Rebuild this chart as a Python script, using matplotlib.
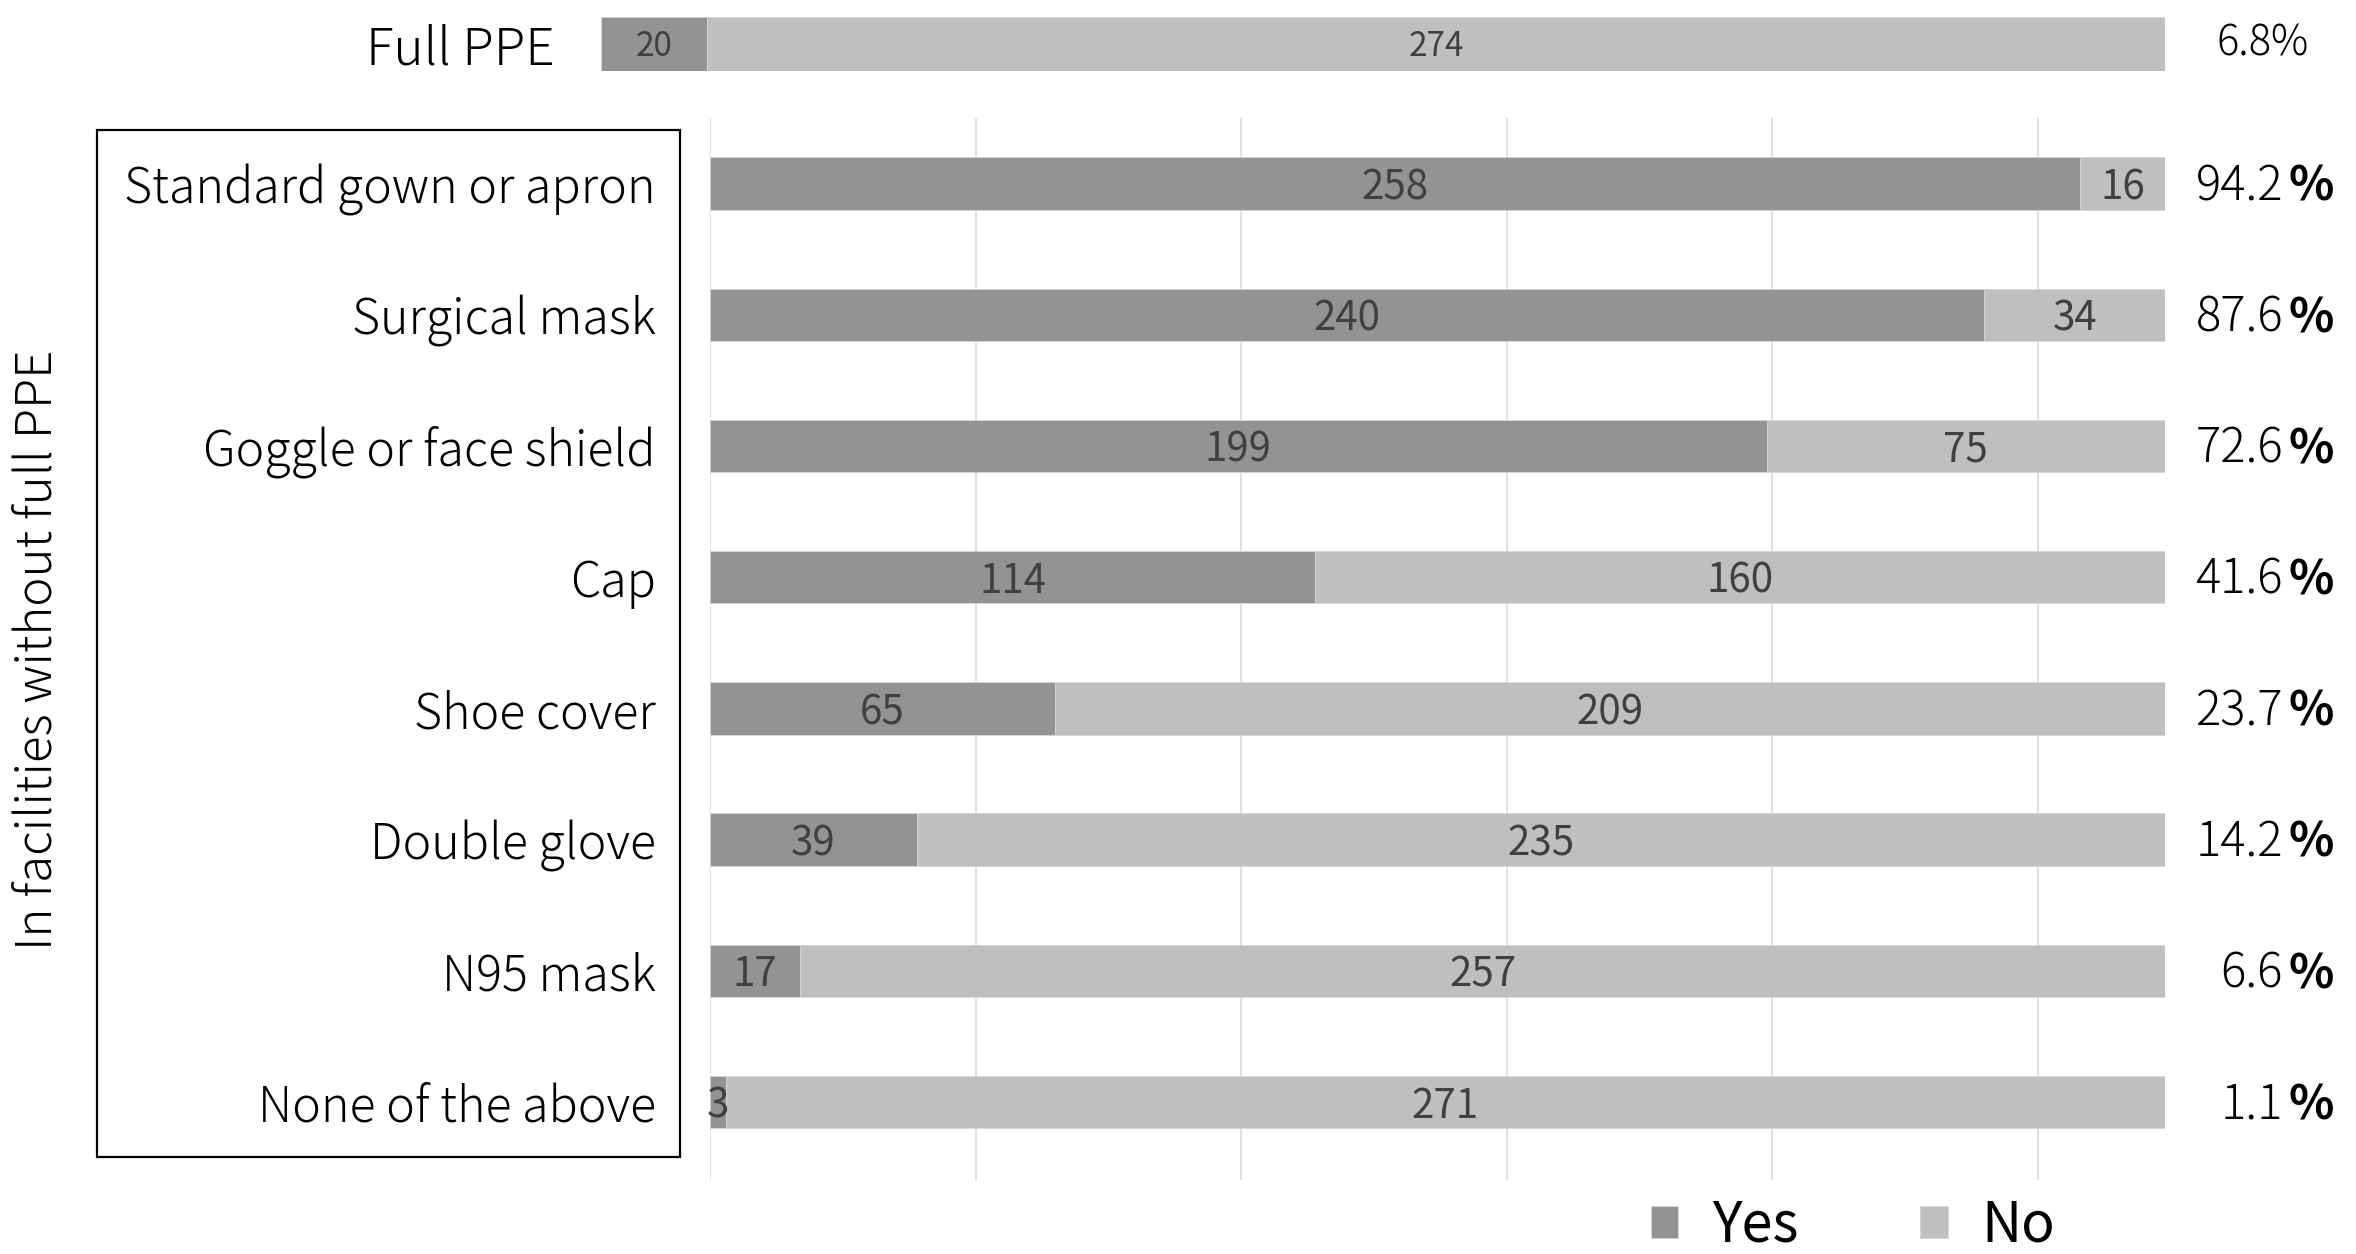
import matplotlib
matplotlib.use("Agg")
import matplotlib.pyplot as plt
import matplotlib.transforms as mtransforms
from matplotlib.patches import Rectangle

plt.rcParams["font.family"] = ["Noto Sans CJK JP", "DejaVu Sans"]
plt.rcParams["font.weight"] = "light"

# data
categories = ["Standard gown or apron", "Surgical mask", "Goggle or face shield",
              "Cap", "Shoe cover", "Double glove", "N95 mask", "None of the above"]
yes_counts = [258, 240, 199, 114, 65, 39, 17, 3]
no_counts = [16, 34, 75, 160, 209, 235, 257, 271]
pct_labels = ["94.2", "87.6", "72.6", "41.6", "23.7", "14.2", "6.6", "1.1"]

full_label = "Full PPE"
full_yes = [20]
full_no = [274]
full_pct = "6.8%"

yes_color = "#939393"
no_color = "#bfbfbf"
label_color = "#404040"
W, H = 2356, 1254

fig = plt.figure(figsize=(W / 100, H / 100), dpi=100)

# main chart
ax = fig.add_axes([710 / W, 1 - 1180 / H, 1455 / W, 1062 / H])
y = range(len(categories))
b1 = ax.barh(y, yes_counts, height=0.4, color=yes_color, edgecolor="#d6d6d6", linewidth=0.6,
             label="Yes", zorder=2)
b2 = ax.barh(y, no_counts, left=yes_counts, height=0.4, color=no_color, edgecolor="#d6d6d6",
             linewidth=0.6, label="No", zorder=2)
for bars in (b1, b2):
    for t in ax.bar_label(bars, label_type="center", color=label_color, fontsize=29,
                          fontweight="normal"):
        t.xyann = (0, -3)
ax.set_xlim(0, 274)
ax.set_ylim(7.595, -0.5)
ax.set_xticks(range(0, 251, 50))
ax.grid(axis="x", color="#d9d9d9", linewidth=1.1, zorder=0)
ax.set_yticks(list(y))
ax.set_yticklabels(categories, fontsize=34.8)
ax.tick_params(axis="y", length=0, pad=39)
ax.tick_params(axis="x", length=0, labelbottom=False)
for s in ax.spines.values():
    s.set_visible(False)

# percentages on the right: number normal, % sign bold
tr = mtransforms.blended_transform_factory(fig.transFigure, ax.transData)
for i, p in enumerate(pct_labels):
    ax.text(2283 / W, i + 0.025, p, transform=tr, ha="right", va="center", fontsize=34)
    ax.text(2288 / W, i + 0.025, "%", transform=tr, ha="left", va="center", fontsize=34,
            fontweight="bold")

# top bar: full PPE
ax2 = fig.add_axes([601 / W, 1 - 71 / H, 1564 / W, 54 / H])
c1 = ax2.barh([0], full_yes, height=1.0, color=yes_color, edgecolor="#d6d6d6", linewidth=0.6)
c2 = ax2.barh([0], full_no, left=full_yes, height=1.0, color=no_color, edgecolor="#d6d6d6",
              linewidth=0.6)
for bars in (c1, c2):
    for t in ax2.bar_label(bars, label_type="center", color=label_color, fontsize=24,
                           fontweight="normal"):
        t.xyann = (0, -2)
ax2.set_xlim(0, full_yes[0] + full_no[0])
ax2.set_ylim(-0.5, 0.5)
ax2.set_yticks([0])
ax2.set_yticklabels([full_label], fontsize=37)
ax2.tick_params(axis="y", length=0, pad=33)
ax2.tick_params(axis="x", length=0, labelbottom=False)
for s in ax2.spines.values():
    s.set_visible(False)
ax2.text(2309 / W, 0, full_pct, transform=mtransforms.blended_transform_factory(
    fig.transFigure, ax2.transData), ha="right", va="center", fontsize=30)

# box round the category labels
fig.patches.append(Rectangle((97 / W, 1 - 1157 / H), (680 - 97) / W, (1157 - 130) / H,
                             transform=fig.transFigure, fill=False, edgecolor="black",
                             linewidth=1.6))

fig.text(38 / W, 1 - 650 / H, "In facilities without full PPE", rotation=90,
         ha="center", va="center", fontsize=35.5)

fig.legend(handles=[b1, b2], labels=["Yes", "No"], loc="center",
           bbox_to_anchor=(1853 / W, 1 - 1226 / H), ncol=2, frameon=False,
           prop={"size": 40, "weight": "normal"},
           handlelength=0.5, handleheight=0.5, handletextpad=0.6, columnspacing=2.2)

fig.savefig("out.png", dpi=100)
